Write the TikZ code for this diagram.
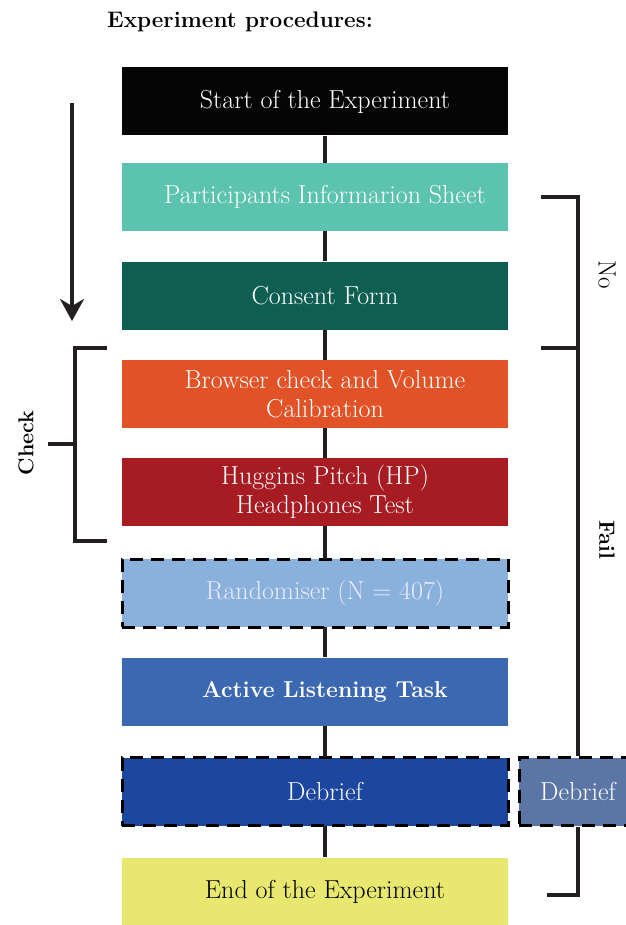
\documentclass[tikz,border=0pt]{standalone}
\usepackage{xcolor}
\usepackage{tikz}
\usetikzlibrary{positioning, arrows.meta}

\definecolor{startblack}{HTML}{050505}
\definecolor{infoteal}{HTML}{5CC4AE}
\definecolor{consentteal}{HTML}{0E5E52}
\definecolor{browserorange}{HTML}{E15227}
\definecolor{hpred}{HTML}{A61C22}
\definecolor{randblue}{HTML}{8AB0DC}
\definecolor{taskblue}{HTML}{3C68B2}
\definecolor{debriefblue}{HTML}{1D479F}
\definecolor{debriefgrey}{HTML}{5B76A5}
\definecolor{endyellow}{HTML}{E8E871}
\definecolor{linegrey}{HTML}{231F20}

\begin{document}
\begin{tikzpicture}[x=1pt, y=-1pt,
		stage/.style={
			rectangle,
			preaction={fill=#1, transform canvas={xshift=-10pt}},
			minimum width=386pt,
			minimum height=68pt,
			inner sep=0pt,
			align=center,
			text=white,
			font=\fontsize{26}{28.5}\selectfont},
		dashbox/.style={
			preaction={draw=black, line width=3pt,
				dash pattern=on 13pt off 8pt, transform canvas={xshift=-10pt}}},
		sidebox/.style={
			rectangle,
			fill=debriefgrey,
			draw=black,
			line width=3pt,
			dash pattern=on 13pt off 8pt,
			minimum width=118pt,
			minimum height=68pt,
			text=white,
			font=\fontsize{26}{28}\selectfont},
		link/.style={draw=linegrey, line width=3.8pt},
		brace/.style={draw=linegrey, line width=3.8pt, line join=miter}
		]
		\useasboundingbox (0,0) rectangle (625,925);
		\node[font=\fontsize{22.5}{26}\selectfont\bfseries] (title) at (240,22) {Experiment procedures:};
		\node [stage=startblack] (start) at (325,101.5) {Start of the Experiment};
		\node [stage=infoteal] (info) at (325,197) {Participants Informarion Sheet};
		\node [stage=consentteal] (consent) at (325,295.5) {Consent Form};
		\node [stage=browserorange] (browser) at (325,394) {Browser check and Volume\\Calibration};
		\node [stage=hpred] (hp) at (325,492) {Huggins Pitch (HP)\\Headphones Test};
		\node [stage=randblue, dashbox, text=white!92!blue] (rand) at (325,593) {Randomiser (N = 407)};
		\node [stage=taskblue, font=\fontsize{23}{28}\selectfont\bfseries] (task) at (325,691.5) {Active Listening Task};
		\node [stage=debriefblue, dashbox] (debrief) at (325,791.5) {Debrief};
		\node [stage=endyellow, text=black] (end) at (325,891.5) {End of the Experiment};
		\node [sidebox] (debriefB) at (578,791.5) {Debrief};
		\draw[link] (start.south) to (info.north);
		\draw[link] (info.south) to (consent.north);
		\draw[link] (consent.south) to (browser.north);
		\draw[link] (browser.south) to (hp.north);
		\draw[link] (hp.south) to (rand.north);
		\draw[link] (rand.south) to (task.north);
		\draw[link] (task.south) to (debrief.north);
		\draw[link] (debrief.south) to (end.north);
		% flow arrow
		\coordinate (flowTop) at (72,103);
		\coordinate (flowEnd) at (72,321);
		\draw[link, -{Stealth[length=22pt, width=24pt, inset=7pt]}] (flowTop) to (flowEnd);
		% check bracket
		\coordinate (chkA) at (107,348);
		\coordinate (chkB) at (107,541);
		\coordinate (chkMid) at (75,444);
		\draw[brace] (chkA) -- ++(-32,0) |- (chkB);
		\draw[brace] (chkMid) -- ++(-27,0);
		\node[rotate=90, font=\fontsize{21.5}{24}\selectfont\bfseries] (check) at (26,443) {Check};
		% no / fail bracket
		\coordinate (noTop) at (541,197);
		\coordinate (noMid) at (541,348);
		\coordinate (failEnd) at (547,895);
		\draw[brace] (noTop) -| (debriefB.north);
		\draw[brace] (noMid) -- (noMid -| debriefB);
		\draw[brace] (debriefB.south) |- (failEnd);
		\node[rotate=-90, font=\fontsize{25}{28}\selectfont] (no) at (607,275) {No};
		\node[rotate=-90, font=\fontsize{22}{24}\selectfont\bfseries] (fail) at (607,540) {Fail};
\end{tikzpicture}
\end{document}
